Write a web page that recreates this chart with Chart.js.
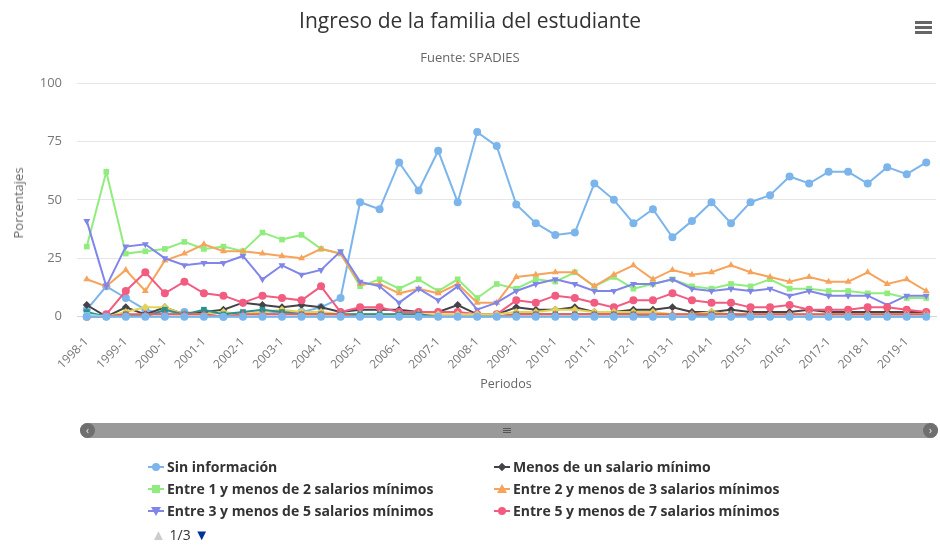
<!DOCTYPE html>
<html>
<head>
<meta charset="utf-8">
<script src="https://cdn.jsdelivr.net/npm/chart.js@4.4.1/dist/chart.umd.min.js"></script>
<style>
  html, body { margin:0; padding:0; background:#fff; }
  #wrap { position:relative; width:940px; height:546px; overflow:hidden; font-family:"Open Sans", sans-serif; }
  #c { position:absolute; left:0; top:0; }
  .abs { position:absolute; white-space:nowrap; }
  #title { left:0; width:940px; top:6px; text-align:center; font-size:21px; color:#333; }
  #subtitle { left:0; width:940px; top:48px; text-align:center; font-size:13px; color:#666; }
  #ytitle { left:18px; top:203px; font-size:13px; color:#666; transform:translate(-50%,-50%) rotate(-90deg); }
  #xtitle { left:506px; top:383px; font-size:12.5px; color:#666; transform:translate(-50%,-50%); }
  #menu { left:915px; top:21px; width:17px; }
  #menu div { height:2.5px; background:#666; margin-bottom:2.5px; }
  #scroll { left:80px; top:423px; width:858px; height:15px; background:#9a9a9a; border-radius:8px; }
  .knob { position:absolute; top:0; width:15px; height:15px; border-radius:50%; background:#6f6f6f; color:#eee; font-size:10px; line-height:15px; text-align:center; }
  #grip { position:absolute; left:423px; top:5px; width:8px; }
  #grip div { height:1px; background:#555; margin-bottom:1px; }
  .leg { position:absolute; font-size:14px; font-weight:bold; color:#333; white-space:nowrap; }
  .sym { position:absolute; width:16px; height:2px; }
  #pager { left:151px; top:524px; font-size:14px; color:#333; }
</style>
</head>
<body>
<div id="wrap">
  <canvas id="c" width="940" height="546"></canvas>
  <div class="abs" id="title">Ingreso de la familia del estudiante</div>
  <div class="abs" id="subtitle">Fuente: SPADIES</div>
  <div class="abs" id="ytitle">Porcentajes</div>
  <div class="abs" id="xtitle">Periodos</div>
  <div class="abs" id="menu"><div></div><div></div><div></div></div>
  <div class="abs" id="scroll">
    <div class="knob" style="left:0">&#8249;</div>
    <div id="grip"><div></div><div></div><div></div></div>
    <div class="knob" style="right:0">&#8250;</div>
  </div>
  <div id="legend"></div>
  <div class="abs" id="pager"><span style="color:#ccc;font-size:15px">&#9650;</span> 1/3 <span style="color:#003399;font-size:15px">&#9660;</span></div>
</div>
<script>
// ---- Data ----
const categories = [];
for (let y = 1998; y <= 2019; y++) { categories.push(y + "-1"); categories.push(y + "-2"); }

const seriesNames = [
  "Sin información",
  "Menos de un salario mínimo",
  "Entre 1 y menos de 2 salarios mínimos",
  "Entre 2 y menos de 3 salarios mínimos",
  "Entre 3 y menos de 5 salarios mínimos",
  "Entre 5 y menos de 7 salarios mínimos",
  "Entre 7 y menos de 9 salarios mínimos",
  "Entre 9 y menos de 11 salarios mínimos",
  "Entre 11 y menos de 13 salarios mínimos",
  "Entre 13 y menos de 15 salarios mínimos",
  "15 o más salarios mínimos"
];

const sinInformacion = [3,13,8,3,1,2,1,0,1,1,2,2,4,8,49,46,66,54,71,49,79,73,48,40,35,36,57,50,40,46,34,41,49,40,49,52,60,57,62,62,57,64,61,66];
const menosDeUno     = [5,0,4,1,4,1,2,3,6,5,4,5,4,2,3,3,3,2,2,5,1,1,4,3,3,4,2,2,3,3,4,2,2,3,2,2,2,3,2,2,2,2,2,2];
const entre1y2       = [30,62,27,28,29,32,29,30,28,36,33,35,29,27,13,16,12,16,11,16,8,14,12,16,15,19,13,17,12,14,16,13,12,14,13,16,12,12,11,11,10,10,8,8];
const entre2y3       = [16,13,20,11,24,27,31,28,28,27,26,25,29,27,14,14,10,12,10,14,6,6,17,18,19,19,13,18,22,16,20,18,19,22,19,17,15,17,15,15,19,14,16,11];
const entre3y5       = [41,13,30,31,25,22,23,23,26,16,22,18,20,28,15,13,6,12,7,13,3,6,11,14,16,14,11,11,14,14,16,12,11,12,11,12,9,11,9,9,9,5,9,9];
const entre5y7       = [0,1,11,19,10,15,10,9,6,9,8,7,13,2,4,4,2,2,2,2,1,1,7,6,9,8,6,4,7,7,10,7,6,6,4,4,5,3,3,3,4,4,3,2];
const entre7y9       = [0,0,2,4,4,1,1,2,1,2,3,2,2,1,1,1,1,1,1,1,1,1,2,2,3,3,2,2,2,2,1,1,2,1,1,1,1,1,1,1,1,1,1,1];
const entre9y11      = [2,0,1,0,3,1,3,1,2,3,2,1,1,1,1,1,1,1,0,0,0,0,1,1,1,1,1,1,1,0,0,0,1,1,0,0,0,0,0,0,0,0,0,0];
const entre11y13     = [0,0,1,1,1,1,1,0,1,1,1,1,1,1,0,0,0,0,0,0,0,0,1,1,1,1,1,1,1,1,1,1,1,1,1,1,1,1,1,1,1,1,1,1];
const entre13y15     = [1,0,0,0,0,0,0,0,0,0,0,0,0,0,0,0,0,0,0,0,0,0,0,0,0,0,0,0,0,0,0,0,0,0,0,0,0,0,0,0,0,0,0,0];
const quinceOMas     = [0,0,0,0,0,0,0,0,0,0,0,0,0,0,0,0,0,0,0,0,0,0,0,0,0,0,0,0,0,0,0,0,0,0,0,0,0,0,0,0,0,0,0,0];

const seriesValues = [sinInformacion, menosDeUno, entre1y2, entre2y3, entre3y5, entre5y7, entre7y9, entre9y11, entre11y13, entre13y15, quinceOMas];
const yTicks = [0, 25, 50, 75, 100];

// ---- Styles ----
const colors = ["#7cb5ec","#434348","#90ed7d","#f7a35c","#8085e9","#f15c80","#e4d354","#2b908f","#f45b5b","#91e8e1","#7cb5ec"];
const symbols = [
  {s:"circle",r:0},{s:"rectRot",r:0},{s:"rect",r:0},{s:"triangle",r:0},{s:"triangle",r:180}
];

const datasets = seriesValues.map((vals, i) => {
  const sym = symbols[i % 5];
  return {
    label: seriesNames[i],
    data: vals,
    borderColor: colors[i],
    backgroundColor: colors[i],
    borderWidth: 2,
    pointStyle: sym.s,
    pointRotation: sym.r,
    pointRadius: 4,
    pointBorderWidth: 0,
    tension: 0,
    clip: false,
    order: seriesValues.length - i
  };
});

new Chart(document.getElementById("c"), {
  type: "line",
  data: { labels: categories, datasets },
  options: {
    responsive: false,
    animation: false,
    events: [],
    layout: { padding: { top: 83, left: 0, right: 4, bottom: 0 } },
    plugins: { legend: { display: false }, tooltip: { enabled: false }, title: { display: false } },
    scales: {
      x: {
        type: "category",
        offset: true,
        grid: { display: false, drawTicks: false },
        border: { display: true, color: "#ccd6eb" },
        ticks: {
          autoSkip: false, minRotation: 45, maxRotation: 45, padding: 18,
          color: "#777", font: { family: "Open Sans", size: 12 },
          callback: function(v, idx) { return idx % 2 === 0 ? categories[idx] : ""; }
        },
        afterFit: s => { s.height = 229.3; s.paddingRight = 0; s.paddingLeft = 0; }
      },
      y: {
        min: 0, max: 100,
        afterBuildTicks: s => { s.ticks = yTicks.map(v => ({ value: v })); },
        grid: { color: "#e6e6e6", drawTicks: false },
        border: { display: false },
        ticks: { padding: 15, color: "#777", font: { family: "Open Sans", size: 13 } },
        afterFit: s => { s.width = 77; }
      }
    }
  }
});

// ---- HTML legend (page 1 of 3) ----
const legendPos = [[148,467],[494,467],[148,489],[494,489],[148,511],[494,511]];
const legend = document.getElementById("legend");
const markerHtml = (i) => {
  const c = colors[i];
  const s = symbols[i % 5];
  if (s.s === "circle") return `<div style="position:absolute;left:4px;top:-3px;width:8px;height:8px;border-radius:50%;background:${c}"></div>`;
  if (s.s === "rect") return `<div style="position:absolute;left:4px;top:-3px;width:8px;height:8px;background:${c}"></div>`;
  if (s.s === "rectRot") return `<div style="position:absolute;left:5px;top:-2px;width:6px;height:6px;background:${c};transform:rotate(45deg)"></div>`;
  if (s.r === 0) return `<div style="position:absolute;left:3px;top:-4px;width:0;height:0;border-left:5px solid transparent;border-right:5px solid transparent;border-bottom:9px solid ${c}"></div>`;
  return `<div style="position:absolute;left:3px;top:-3px;width:0;height:0;border-left:5px solid transparent;border-right:5px solid transparent;border-top:9px solid ${c}"></div>`;
};
legendPos.forEach((p, i) => {
  const sym = document.createElement("div");
  sym.className = "sym";
  sym.style.left = p[0] + "px"; sym.style.top = (p[1] - 1) + "px";
  sym.style.background = colors[i];
  sym.innerHTML = markerHtml(i);
  legend.appendChild(sym);
  const t = document.createElement("div");
  t.className = "leg";
  t.style.left = (p[0] + 19) + "px"; t.style.top = (p[1] - 10) + "px";
  t.textContent = seriesNames[i];
  legend.appendChild(t);
});
</script>
</body>
</html>
